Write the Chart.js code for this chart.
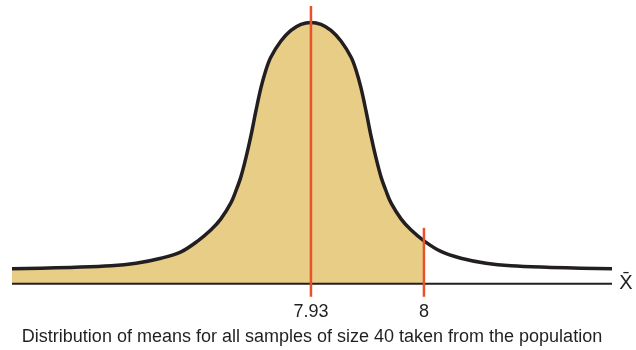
<!DOCTYPE html>
<html>
<head>
<meta charset="utf-8">
<script src="https://cdn.jsdelivr.net/npm/chart.js@4/dist/chart.umd.min.js"></script>
<style>
  html, body { margin: 0; padding: 0; background: #ffffff; }
  canvas { display: block; }
</style>
</head>
<body>
<canvas id="c" width="636" height="350"></canvas>
<script>
// Sample-mean values along the horizontal axis
const meanX = [
  7.7448, 7.7627, 7.7813, 7.8061, 7.8216, 7.8371, 7.8495, 7.8600, 7.8681, 7.8742,
  7.8804, 7.8835, 7.8866, 7.8897, 7.8928, 7.8959, 7.8990, 7.9021, 7.9052, 7.9114,
  7.9176, 7.9238, 7.9300, 7.9362, 7.9424, 7.9486, 7.9548, 7.9579, 7.9610, 7.9641,
  7.9672, 7.9703, 7.9734, 7.9765, 7.9796, 7.9858, 7.9919, 8.0000, 8.0105, 8.0229,
  8.0384, 8.0539, 8.0787, 8.0973, 8.1165
];
// Curve height at each value
const meanDensity = [
  0.75, 0.78, 0.82, 0.90, 1.03, 1.28, 1.60, 2.15, 2.70, 3.25,
  4.05, 4.65, 5.35, 6.30, 7.40, 8.65, 9.80, 10.70, 11.35, 12.15,
  12.68, 12.98, 13.08, 12.98, 12.68, 12.15, 11.35, 10.70, 9.80, 8.65,
  7.40, 6.30, 5.35, 4.65, 4.05, 3.25, 2.70, 2.15, 1.62, 1.28,
  1.03, 0.90, 0.82, 0.78, 0.75
];
// Marked values: the mean and the cut-off
const markerX = [7.93, 8];
const markerTop = [13.9, 2.8];
const markerBottom = -0.65;
const tickValues = [7.93, 8];
const tickLabels = ['7.93', '8'];
const shadeLimit = 8;
const axisTitle = 'Distribution of means for all samples of size 40 taken from the population';
const axisSymbol = 'X\u0304';

const xMin = meanX[0];
const xMax = meanX[meanX.length - 1];

const curvePts = meanX.map((x, i) => ({ x, y: meanDensity[i] }));
const shadedPts = curvePts.filter(p => p.x <= shadeLimit);

const FONT = "'Liberation Sans Narrow', 'Arial Narrow', 'Liberation Sans', sans-serif";
const INK = '#231f20';
const RED = '#e8522a';
const SHADE = '#e8cd87';
const SMOOTH = 0.35;

const markerSets = markerX.map((x, i) => ({
  data: [{ x, y: markerBottom }, { x, y: markerTop[i] }],
  borderColor: RED,
  borderWidth: 2.5,
  pointRadius: 0,
  fill: false,
  tension: 0,
  order: 0,
  clip: false
}));

const symbolPlugin = {
  id: 'axisSymbol',
  afterDraw(chart) {
    const { ctx, scales } = chart;
    const px = scales.x.getPixelForValue(xMax) + 14;
    const py = scales.y.getPixelForValue(0);
    ctx.save();
    ctx.fillStyle = INK;
    ctx.font = "20px " + FONT;
    ctx.textAlign = 'center';
    ctx.textBaseline = 'middle';
    ctx.fillText(axisSymbol, px, py);
    ctx.restore();
  }
};

new Chart(document.getElementById('c'), {
  type: 'line',
  data: {
    datasets: [
      ...markerSets,
      {
        data: curvePts,
        borderColor: INK,
        borderWidth: 3.5,
        pointRadius: 0,
        fill: false,
        tension: SMOOTH,
        order: 1,
        clip: false
      },
      {
        data: [{ x: xMin, y: 0 }, { x: xMax, y: 0 }],
        borderColor: INK,
        borderWidth: 2,
        pointRadius: 0,
        fill: false,
        order: 2,
        clip: false
      },
      {
        data: shadedPts,
        borderWidth: 0,
        borderColor: 'rgba(0,0,0,0)',
        backgroundColor: SHADE,
        pointRadius: 0,
        fill: 'origin',
        tension: SMOOTH,
        order: 3
      }
    ]
  },
  options: {
    responsive: false,
    animation: false,
    events: [],
    layout: { padding: { left: 12, right: 24, top: 0, bottom: 2 } },
    plugins: { legend: { display: false }, tooltip: { enabled: false } },
    scales: {
      x: {
        type: 'linear',
        min: xMin,
        max: xMax,
        grid: { display: false },
        border: { display: false },
        afterBuildTicks(axis) {
          axis.ticks = tickValues.map(v => ({ value: v }));
        },
        ticks: {
          autoSkip: false,
          maxRotation: 0,
          padding: -4,
          color: INK,
          font: { family: FONT, size: 18 },
          callback(value) {
            const i = tickValues.indexOf(value);
            return i >= 0 ? tickLabels[i] : '';
          }
        },
        title: {
          display: true,
          text: axisTitle,
          color: INK,
          font: { family: FONT, size: 18 },
          padding: { top: 8, bottom: 0 }
        }
      },
      y: {
        display: false,
        min: markerBottom,
        max: 14.2
      }
    }
  },
  plugins: [symbolPlugin]
});
</script>
</body>
</html>
